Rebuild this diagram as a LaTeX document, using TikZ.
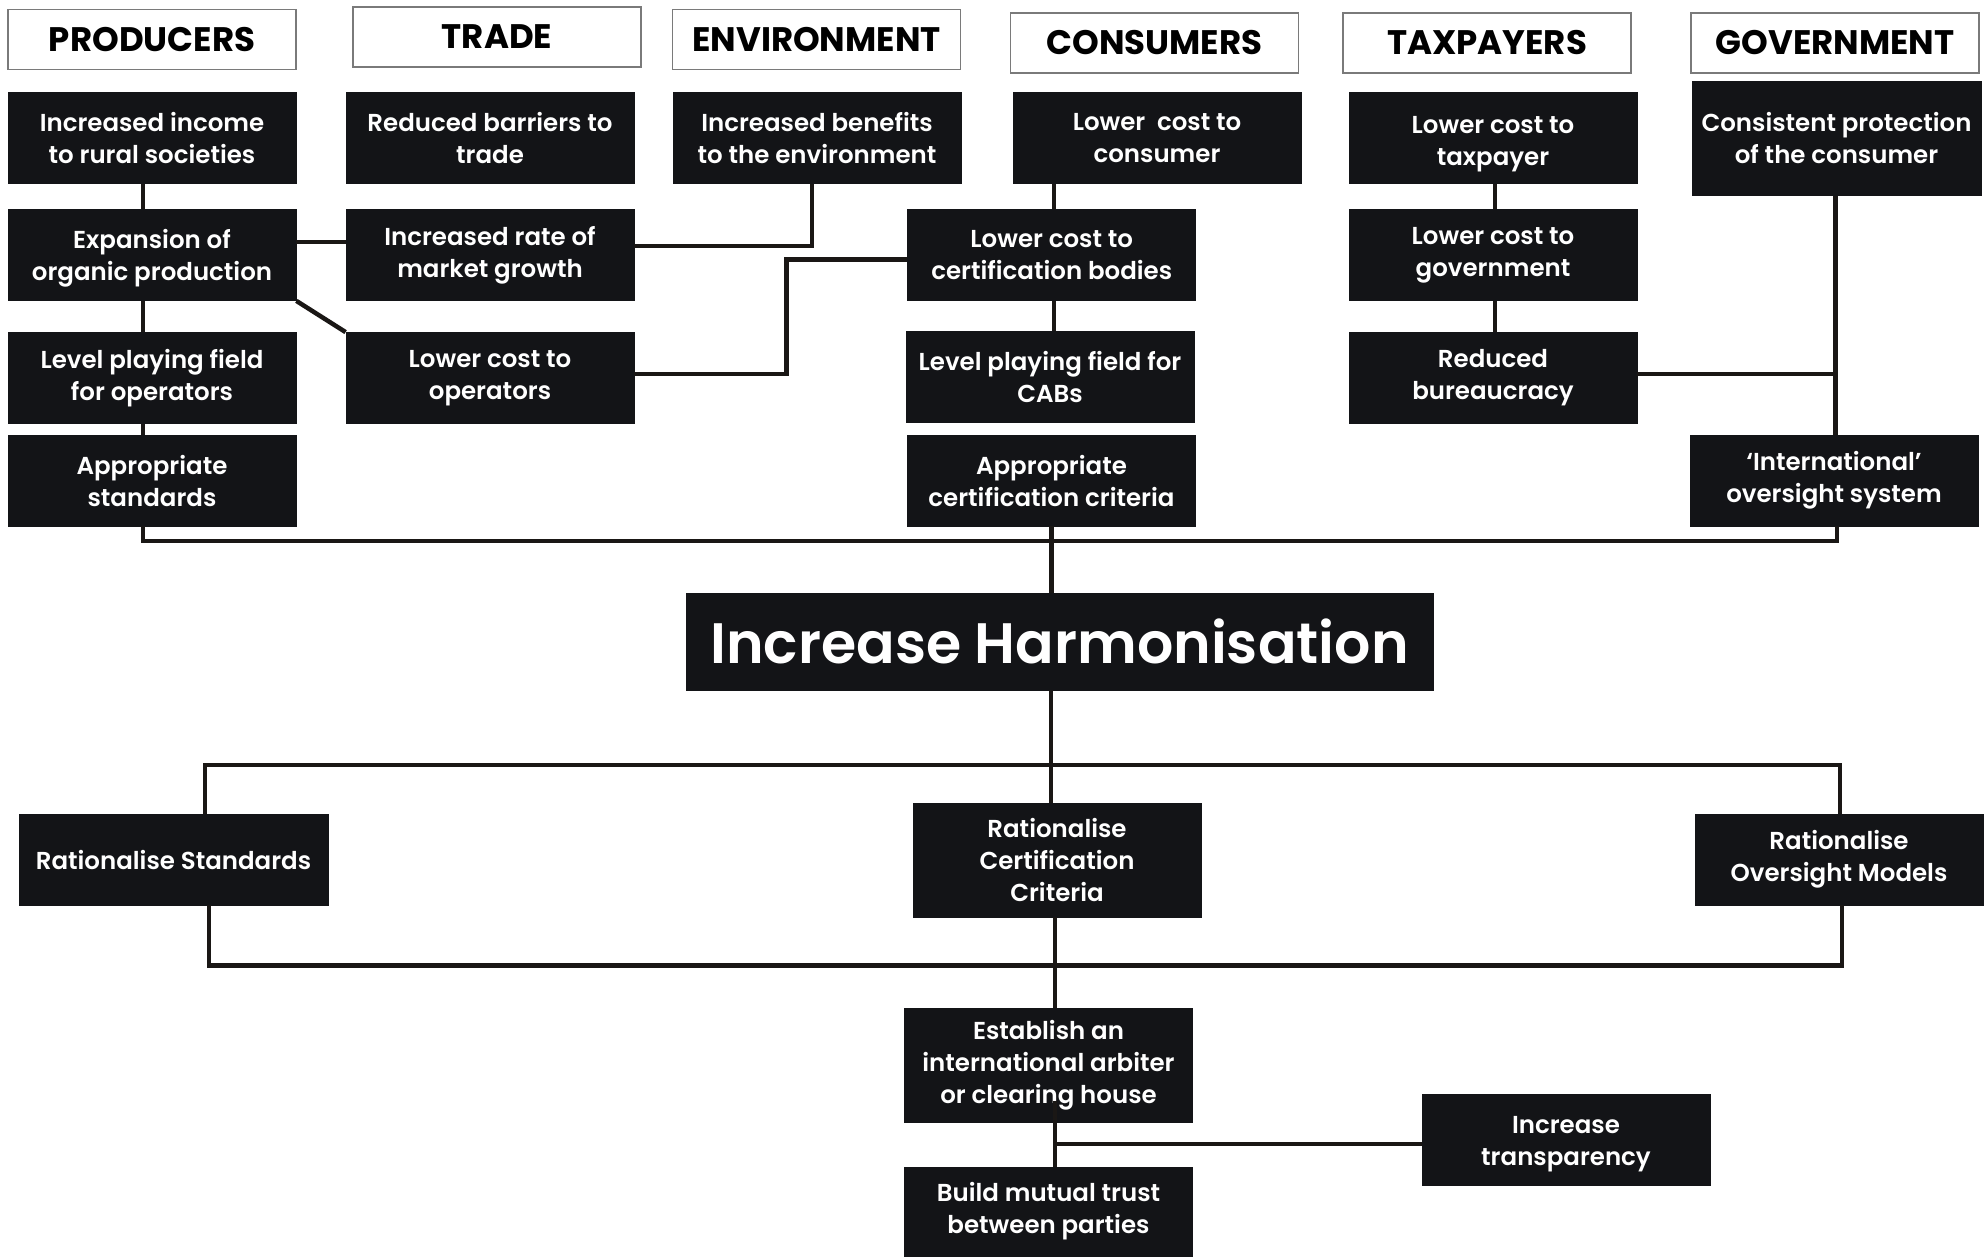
\documentclass[tikz,border=0pt]{standalone}
\usepackage{fontspec}
\setmainfont{Poppins}
\newfontfamily\semib{Poppins SemiBold}
\usetikzlibrary{calc}
\definecolor{boxbg}{HTML}{131417}
\definecolor{linec}{HTML}{1A1715}
\definecolor{hdrborder}{HTML}{7A7A7A}
\tikzset{
  blk/.style={fill=boxbg, draw=boxbg, line width=0.8pt, text=white,
    font=\fontsize{24.5}{32}\selectfont\semib, align=center, inner sep=0pt,
    minimum width=288pt, minimum height=91pt},
  hdr/.style={fill=white, draw=hdrborder, line width=1.5pt, text=black,
    font=\fontsize{34}{38}\selectfont\bfseries, inner sep=0pt,
    minimum width=288pt, minimum height=60pt},
  conn/.style={draw=linec, line width=4.5pt, line join=miter},
}
% shift centred text down by half of #1
\newcommand{\lowr}[2]{\raisebox{0pt}[\dimexpr\height+#1\relax]{\begin{tabular}{@{}c@{}}#2\end{tabular}}}
\begin{document}
\begin{tikzpicture}[x=1pt,y=-1pt]
\useasboundingbox (0,0) rectangle (1986,1256);
\fill[white] (0,0) rectangle (1986,1256);

% headers
\node[hdr] (hP) at (152,39.5) {PRODUCERS};
\node[hdr] (hT) at (497,37) {TRADE};
\node[hdr] (hE) at (816.5,39.5) {ENVIRONMENT};
\node[hdr] (hC) at (1154.5,43) {CONSUMERS};
\node[hdr] (hX) at (1487,43) {TAXPAYERS};
\node[hdr] (hG) at (1835,43) {GOVERNMENT};

% upper boxes
\node[blk] (p1) at (152,138) {Increased income\\to rural societies};
\node[blk] (p2) at (152,255) {\lowr{6pt}{Expansion of\\organic production}};
\node[blk] (p3) at (152,378) {Level playing field\\for operators};
\node[blk] (p4) at (152,480.5) {Appropriate\\standards};
\node[blk] (t1) at (490,138) {Reduced barriers to\\trade};
\node[blk] (t2) at (490,255) {Increased rate of\\market growth};
\node[blk] (t3) at (490,378) {Lower cost to\\operators};
\node[blk] (e1) at (817,138) {Increased benefits\\to the environment};
\node[blk] (c1) at (1157,138) {Lower\ \ cost to\\consumer};
\node[blk] (c2) at (1051.75,255) {Lower cost to\\certification bodies};
\node[blk] (c3) at (1050,376.5) {Level playing field for\\CABs};
\node[blk] (c4) at (1051.5,480.5) {Appropriate\\certification criteria};
\node[blk] (x1) at (1493,138) {\lowr{10pt}{Lower cost to\\taxpayer}};
\node[blk] (x2) at (1493,255) {Lower cost to\\government};
\node[blk] (x3) at (1493,378) {Reduced\\bureaucracy};
\node[blk, minimum width=289pt, minimum height=114pt] (g1) at (1836.5,138.2) {Consistent protection\\of the consumer};
\node[blk] (g2) at (1834,480.5) {‘International’\\oversight system};

% central
\node[blk, minimum width=747pt, minimum height=97pt, font=\fontsize{57}{62}\selectfont\semib] (H) at (1059.5,641.5) {Increase Harmonisation};

% lower boxes
\node[blk, minimum width=309pt] (r1) at (173.5,859.5) {Rationalise Standards};
\node[blk, minimum height=114pt] (r2) at (1057,860) {Rationalise\\Certification\\Criteria};
\node[blk] (r3) at (1839,859.5) {Rationalise\\Oversight Models};
\node[blk, minimum height=114pt] (s1) at (1048.5,1065) {Establish an\\international arbiter\\or clearing house};
\node[blk, minimum height=89pt] (s2) at (1048.5,1211.5) {Build mutual trust\\between parties};
\node[blk] (s3) at (1566,1139.5) {\lowr{8pt}{Increase\\transparency}};

% coordinates
\coordinate (busR) at (1837,541);
\coordinate (sx) at ([xshift=6.5pt]s1.south);

% upper connectors
\draw[conn] ([xshift=-9pt]p1.south) -- ([xshift=-9pt]p2.north);
\draw[conn] ([xshift=-9pt]p2.south) -- ([xshift=-9pt]p3.north);
\draw[conn] ([xshift=-9pt]p3.south) -- ([xshift=-9pt]p4.north);
\draw[conn] ([xshift=-9pt]p4.south) |- (busR) -- (g2.south -| busR);
\draw[conn] ([yshift=13pt]p2.east) -- ([yshift=13pt]t2.west);
\draw[conn] (p2.south east) -- (t3.north west);
\draw[conn] ([yshift=9pt]t2.east) -| ([xshift=-5pt]e1.south);
\draw[conn] ([yshift=4pt]t3.east) -- ++(152,0) |- ([yshift=-4.6pt]c2.west);
\draw[conn] ([xshift=2pt]c2.north) -- ([xshift=2pt]c2.north |- c1.south);
\draw[conn] ([xshift=2pt]c2.south) -- ([xshift=2pt]c2.south |- c3.north);
\draw[conn] (c4.south) -- (c4.south |- H.north);
\draw[conn] ([xshift=2pt]x1.south) -- ([xshift=2pt]x2.north);
\draw[conn] ([xshift=2pt]x2.south) -- ([xshift=2pt]x3.north);
\draw[conn] ([yshift=4pt]x3.east) -- ([yshift=4pt]x3.east -| g1.south);
\draw[conn] ([xshift=-1pt]g1.south) -- ([xshift=-1pt]g1.south |- g2.north);

% lower connectors
\draw[conn] ([xshift=-8.5pt]H.south) -- ([xshift=-8.5pt]H.south |- r2.north);
\draw[conn] ([xshift=31.5pt]r1.north) -- ++(0,-48.5) -| ([xshift=1pt]r3.north);
\draw[conn] ([xshift=35.5pt]r1.south) -- ++(0,60) -| ([xshift=3pt]r3.south);
\draw[conn] ([xshift=-2pt]r2.south) -- ([xshift=-2pt]r2.south |- s1.north);
\draw[conn] ([yshift=21pt]sx) -- (sx |- s2.north);
\draw[conn] ([yshift=-4.5pt]s3.west) -- ([yshift=-4.5pt]s3.west -| sx);
\end{tikzpicture}
\end{document}
